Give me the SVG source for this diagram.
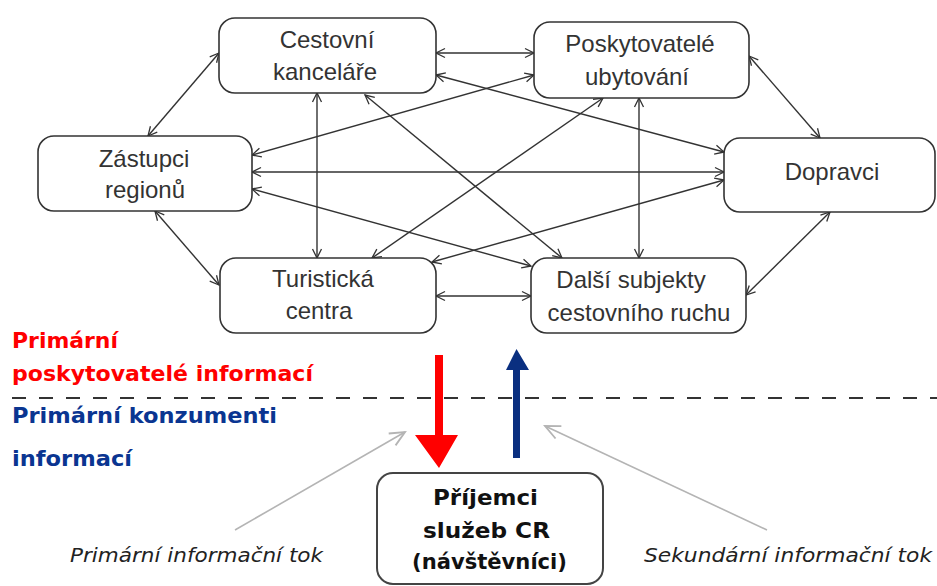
<svg xmlns="http://www.w3.org/2000/svg" width="937" height="586" viewBox="0 0 937 586">
<style>
.box{fill:#fff;stroke:#333;stroke-width:1.6}
.lbl{font-family:"Liberation Sans",Arial,sans-serif;font-size:24px;fill:#333;text-anchor:middle}
.con{stroke:#333;stroke-width:1.4;fill:none;marker-start:url(#ah);marker-end:url(#ah)}
.gray{stroke:#b4b4b4;stroke-width:1.6;fill:none;marker-end:url(#gh)}
.bold{font-family:"DejaVu Sans",Verdana,sans-serif;font-weight:bold;font-size:22px}
.it{font-family:"DejaVu Sans",Verdana,sans-serif;font-style:italic;font-size:20px;fill:#222}
</style>
<defs>
<marker id="ah" markerUnits="userSpaceOnUse" markerWidth="14" markerHeight="14" refX="10" refY="5" orient="auto-start-reverse" viewBox="0 0 14 10">
<path d="M1,0.5 L10,5 L1,9.5" fill="none" stroke="#333" stroke-width="1.3"/>
</marker>
<marker id="gh" markerUnits="userSpaceOnUse" markerWidth="20" markerHeight="16" refX="14" refY="7" orient="auto" viewBox="0 0 16 14">
<path d="M1,1 L14,7 L1,13" fill="none" stroke="#b4b4b4" stroke-width="1.6"/>
</marker>
</defs>

<g id="connectors">
<line class="con" x1="436" y1="53" x2="534" y2="53"/>
<line class="con" x1="436" y1="75" x2="724" y2="152"/>
<line class="con" x1="219" y1="53" x2="148" y2="136"/>
<line class="con" x1="317" y1="93" x2="317" y2="258"/>
<line class="con" x1="365" y1="95" x2="562" y2="258"/>
<line class="con" x1="252" y1="155" x2="534" y2="75"/>
<line class="con" x1="252" y1="172" x2="724" y2="172"/>
<line class="con" x1="155" y1="211" x2="219" y2="285"/>
<line class="con" x1="252" y1="189" x2="531" y2="266"/>
<line class="con" x1="372" y1="258" x2="603" y2="98"/>
<line class="con" x1="432" y1="262" x2="724" y2="180"/>
<line class="con" x1="436" y1="296" x2="531" y2="296"/>
<line class="con" x1="639" y1="98" x2="639" y2="258"/>
<line class="con" x1="749" y1="56" x2="820" y2="138"/>
<line class="con" x1="830" y1="212" x2="746" y2="295"/>
</g>

<g id="cestovni">
<rect class="box" x="219" y="18" width="217" height="75" rx="16"/>
<text class="lbl" x="327" y="48">Cestovní</text>
<text class="lbl" x="325" y="80">kanceláře</text>
</g>
<g id="ubytovani">
<rect class="box" x="534" y="22" width="215" height="76" rx="16"/>
<text class="lbl" x="640" y="52">Poskytovatelé</text>
<text class="lbl" x="637" y="85">ubytování</text>
</g>
<g id="zastupci">
<rect class="box" x="38" y="136" width="214" height="75" rx="16"/>
<text class="lbl" x="144" y="167">Zástupci</text>
<text class="lbl" x="145" y="198">regionů</text>
</g>
<g id="dopravci">
<rect class="box" x="724" y="138" width="211" height="74" rx="16"/>
<text class="lbl" x="832" y="180">Dopravci</text>
</g>
<g id="turisticka">
<rect class="box" x="220" y="258" width="216" height="75" rx="16"/>
<text class="lbl" x="323" y="287">Turistická</text>
<text class="lbl" x="319" y="319">centra</text>
</g>
<g id="dalsi">
<rect class="box" x="531" y="258" width="215" height="75" rx="16"/>
<text class="lbl" x="631" y="288">Další subjekty</text>
<text class="lbl" x="639" y="321">cestovního ruchu</text>
</g>

<g id="legend">
<text class="bold" x="12" y="348" fill="#ff0000" textLength="106" lengthAdjust="spacingAndGlyphs">Primární</text>
<text class="bold" x="12" y="381" fill="#ff0000" textLength="301" lengthAdjust="spacingAndGlyphs">poskytovatelé informací</text>
<line x1="12" y1="398" x2="937" y2="398" stroke="#333" stroke-width="2" stroke-dasharray="14 13"/>
<text class="bold" x="12" y="423" fill="#0a3591" textLength="265" lengthAdjust="spacingAndGlyphs">Primární konzumenti</text>
<text class="bold" x="12" y="466" fill="#0a3591" textLength="120" lengthAdjust="spacingAndGlyphs">informací</text>
</g>

<g id="flows">
<path d="M435,355 H443 V435 H458 L439,468 L415,435 H435 Z" fill="#ff0000"/>
<path d="M513,458 V370 H506 L516.5,349 L529,370 H520 V458 Z" fill="#0a2f80"/>
<line class="gray" x1="235" y1="530" x2="405" y2="432"/>
<line class="gray" x1="767" y1="530" x2="545" y2="426"/>
<text class="it" x="70" y="562" textLength="253" lengthAdjust="spacingAndGlyphs">Primární informační tok</text>
<text class="it" x="644" y="562" textLength="288" lengthAdjust="spacingAndGlyphs">Sekundární informační tok</text>
</g>

<g id="prijemci">
<rect x="377" y="473" width="226" height="111" rx="16" fill="#fff" stroke="#444" stroke-width="2"/>
<text class="bold" x="433" y="505" fill="#111" font-size="23" textLength="105" lengthAdjust="spacingAndGlyphs">Příjemci</text>
<text class="bold" x="423" y="538" fill="#111" font-size="23" textLength="127" lengthAdjust="spacingAndGlyphs">služeb CR</text>
<text class="bold" x="412" y="569" fill="#111" font-size="23" textLength="155" lengthAdjust="spacingAndGlyphs">(návštěvníci)</text>
</g>
</svg>
